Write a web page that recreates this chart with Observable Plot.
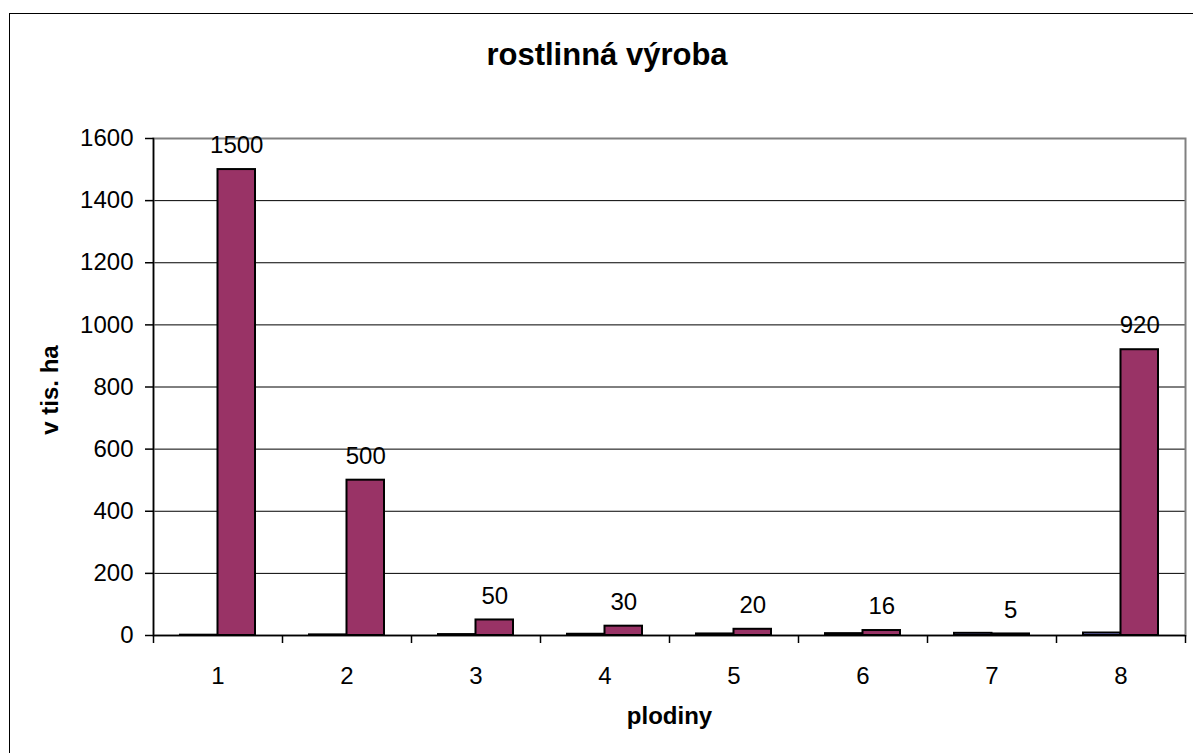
<!DOCTYPE html>
<html>
<head>
<meta charset="utf-8">
<script src="https://cdn.jsdelivr.net/npm/d3@7"></script>
<script src="https://cdn.jsdelivr.net/npm/@observablehq/plot@0.6"></script>
<style>
  html, body { margin: 0; padding: 0; overflow: hidden; background: white; }
  #wrap { position: relative; width: 1193px; height: 753px; font-family: "Liberation Sans", Arial, sans-serif; }
  #box { position: absolute; left: 9px; top: 13px; width: 1196px; height: 760px; border-left: 1.5px solid #000; border-top: 1.5px solid #000; pointer-events: none; z-index: 2; }
  #title { position: absolute; left: 9px; width: 1196px; top: 37px; text-align: center; font-weight: bold; font-size: 31px; line-height: 36px; color: #000; z-index: 3; }
  #chart { position: absolute; left: 0; top: 0; z-index: 1; }
</style>
</head>
<body>
<div id="wrap">
  <div id="box"></div>
  <div id="title">rostlinná výroba</div>
  <div id="chart"></div>
</div>
<script>
const categories = ["1", "2", "3", "4", "5", "6", "7", "8"];
const series1 = [1, 2, 3, 4, 5, 6, 7, 8];
const series2 = [1500, 500, 50, 30, 20, 16, 5, 920];
const yTicks = [0, 200, 400, 600, 800, 1000, 1200, 1400, 1600];
const xLabel = "plodiny";
const yLabel = "v tis. ha";

const rows = categories.map((c, i) => ({cat: c, s1: series1[i], s2: series2[i]}));
const lastRow = rows.slice(-1);

const W = 1193, H = 753;
const mL = 153, mR = 8, mT = 138, mB = 118;
const bw = (W - mL - mR) / categories.length; // band width
const barW = 37.5;
const half = bw / 2;
const FS = 24;

const chart = Plot.plot({
  width: W,
  height: H,
  marginLeft: mL,
  marginRight: mR,
  marginTop: mT,
  marginBottom: mB,
  style: {background: "transparent", color: "#000", fontFamily: "'Liberation Sans', Arial, sans-serif", fontSize: FS + "px"},
  x: {domain: categories, padding: 0},
  y: {domain: [0, 1600]},
  marks: [
    Plot.gridY(yTicks, {stroke: "#000", strokeOpacity: 1, strokeWidth: 1}),
    Plot.frame({stroke: "#808080", strokeWidth: 2}),
    Plot.barY(rows, {x: "cat", y: "s1", fill: "#9999FF", stroke: "#000", strokeWidth: 2,
      insetLeft: half - barW, insetRight: half}),
    Plot.barY(rows, {x: "cat", y: "s2", fill: "#993366", stroke: "#000", strokeWidth: 2,
      insetLeft: half, insetRight: half - barW}),
    Plot.text(rows, {x: "cat", y: "s2", text: d => String(d.s2), dx: barW / 2, dy: -24,
      fontSize: FS, fill: "#000", lineAnchor: "middle", textAnchor: "middle"}),
    Plot.ruleY([0], {stroke: "#000", strokeWidth: 1.5}),
    Plot.frame({anchor: "left", stroke: "#000", strokeWidth: 1.5}),
    Plot.axisY({ticks: yTicks, tickFormat: d => String(d), tickSize: 8, tickPadding: 12, fontSize: FS, label: null, stroke: "#000", strokeWidth: 1.5}),
    Plot.ruleX(rows, {x: "cat", y1: 0, y2: 0, insetBottom: -8, dx: -half, stroke: "#000", strokeWidth: 1.5}),
    Plot.ruleX(lastRow, {x: "cat", y1: 0, y2: 0, insetBottom: -8, dx: half, stroke: "#000", strokeWidth: 1.5}),
    Plot.axisX({tickSize: 0, tickPadding: 31, fontSize: FS, label: null}),
    Plot.text([xLabel], {frameAnchor: "bottom", dy: 81, text: d => d, fontWeight: "bold", fontSize: FS, fill: "#000", lineAnchor: "middle", textAnchor: "middle"}),
    Plot.text([yLabel], {frameAnchor: "left", dx: -103, dy: 3, rotate: -90, text: d => d, fontWeight: "bold", fontSize: FS, fill: "#000", lineAnchor: "middle", textAnchor: "middle"})
  ]
});
document.getElementById("chart").appendChild(chart);
</script>
</body>
</html>
